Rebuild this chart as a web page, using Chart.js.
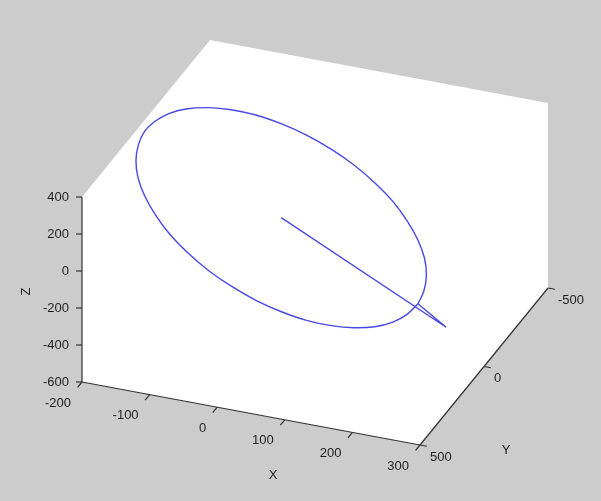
<!DOCTYPE html>
<html><head><meta charset="utf-8">
<script src="https://cdn.jsdelivr.net/npm/chart.js@4"></script>
<style>html,body{margin:0;padding:0;background:#cccccc;overflow:hidden}canvas{display:block}</style>
</head><body>
<canvas id="c" width="601" height="501"></canvas>
<script>
// ---- data (3-D trajectory) ----
// first two points: origin and the outer tip; from index 2 on: the closed orbit
const xs = [0,244, 197,189,176,157,133,106,75,42,8,-27, -61,-93,-122,-147,-168,-184,-194,-198,-197,-189, -176,-157,-133,-106,-75,-42,-8,27,61,93, 122,147,168,184, 194,198,197];
const ys = [0,0, -28,15,57,98,136,169,198,220,236,244, 246,239,226,205,179,147,110,70,28,-15, -57,-98,-136,-169,-198,-220,-236,-244,-246,-239, -226,-205,-179,-147, -110,-70,-28];
const zs = [0,-426, -355,-381,-396,-399,-389,-368,-336,-293,-242,-183, -118,-50,19,88,155,216,271,318,355,381, 396,399,389,368,336,293,242,183,118,50, -19,-88,-155,-216, -271,-318,-355];

// ---- axes ----
const xLim = [-200, 300], yLim = [-500, 500], zLim = [-600, 400];
const xTicks = [-200, -100, 0, 100, 200, 300];
const yTicks = [-500, 0, 500];
const zTicks = [-600, -400, -200, 0, 200, 400];
const xName = 'X', yName = 'Y', zName = 'Z';

// ---- view (layout of the projected box) ----
const VIEW = { o: [82, 382], ex: [338, 63], ey: [128, -157], ez: [0, -185] };
function proj(x, y, z) {
  const u = (x - xLim[0]) / (xLim[1] - xLim[0]);
  const v = (yLim[1] - y) / (yLim[1] - yLim[0]);
  const w = (z - zLim[0]) / (zLim[1] - zLim[0]);
  return { x: VIEW.o[0] + u * VIEW.ex[0] + v * VIEW.ey[0] + w * VIEW.ez[0],
           y: VIEW.o[1] + u * VIEW.ex[1] + v * VIEW.ey[1] + w * VIEW.ez[1] };
}

const allPts = xs.map((x, i) => proj(x, ys[i], zs[i]));
const radialPts = allPts.slice(0, 3);
const orbitPts = allPts.slice(2);
const boxPts = [
  proj(xLim[0], yLim[1], zLim[0]), proj(xLim[0], yLim[1], zLim[1]),
  proj(xLim[0], yLim[0], zLim[1]), proj(xLim[1], yLim[0], zLim[1]),
  proj(xLim[1], yLim[0], zLim[0]), proj(xLim[1], yLim[1], zLim[0]),
  proj(xLim[0], yLim[1], zLim[0])
];

const FONT = '13px "Liberation Sans", Arial, Helvetica, sans-serif';
const TXT = '#1f1f1f';
const AX = '#333333';
const LINE = 'rgb(72,72,226)';

const axesPlugin = {
  id: 'axes3d',
  beforeDraw(chart) {
    const c = chart.ctx; c.save(); c.fillStyle = '#cccccc'; c.fillRect(0, 0, chart.width, chart.height); c.restore();
  },
  afterDatasetsDraw(chart) {
    const sx = chart.scales.x, sy = chart.scales.y, c = chart.ctx;
    const P = (p) => [sx.getPixelForValue(p.x), sy.getPixelForValue(p.y)];
    c.save();
    c.strokeStyle = AX; c.lineWidth = 1.2;
    const seg = (a, b) => { const A = P(a), B = P(b); c.beginPath(); c.moveTo(A[0], A[1]); c.lineTo(B[0], B[1]); c.stroke(); };
    seg(proj(xLim[0], yLim[1], zLim[0]), proj(xLim[1], yLim[1], zLim[0]));
    seg(proj(xLim[1], yLim[1], zLim[0]), proj(xLim[1], yLim[0], zLim[0]));
    seg(proj(xLim[0], yLim[1], zLim[0]), proj(xLim[0], yLim[1], zLim[1]));
    c.font = FONT; c.fillStyle = TXT;
    const ny = Math.hypot(VIEW.ey[0], VIEW.ey[1]);
    const dxT = [-VIEW.ey[0] / ny * 7, -VIEW.ey[1] / ny * 7];
    c.textAlign = 'right'; c.textBaseline = 'middle';
    xTicks.forEach(t => {
      const A = P(proj(t, yLim[1], zLim[0]));
      c.beginPath(); c.moveTo(A[0], A[1]); c.lineTo(A[0] + dxT[0], A[1] + dxT[1]); c.stroke();
      c.fillText(String(t), A[0] - 11, A[1] + 21);
    });
    const nx = Math.hypot(VIEW.ex[0], VIEW.ex[1]);
    const dyT = [VIEW.ex[0] / nx * 7, VIEW.ex[1] / nx * 7];
    c.textAlign = 'left';
    yTicks.forEach(t => {
      const A = P(proj(xLim[1], t, zLim[0]));
      c.beginPath(); c.moveTo(A[0], A[1]); c.lineTo(A[0] + dyT[0], A[1] + dyT[1]); c.stroke();
      c.fillText(String(t), A[0] + 10, A[1] + 12);
    });
    c.textAlign = 'right';
    zTicks.forEach(t => {
      const A = P(proj(xLim[0], yLim[1], t));
      c.beginPath(); c.moveTo(A[0], A[1]); c.lineTo(A[0] - 6, A[1]); c.stroke();
      c.fillText(String(t), A[0] - 13, A[1]);
    });
    c.textAlign = 'center';
    const mx = P(proj((xLim[0] + xLim[1]) / 2, yLim[1], zLim[0]));
    c.fillText(xName, mx[0] + 22, mx[1] + 62);
    const my = P(proj(xLim[1], (yLim[0] + yLim[1]) / 2, zLim[0]));
    c.fillText(yName, my[0] + 22, my[1] + 84);
    const mz = P(proj(xLim[0], yLim[1], (zLim[0] + zLim[1]) / 2));
    c.translate(mz[0] - 56, mz[1] + 2); c.rotate(-Math.PI / 2);
    c.fillText(zName, 0, 0);
    c.restore();
  }
};

new Chart(document.getElementById('c'), {
  type: 'scatter',
  data: { datasets: [
    { label: 'radial', data: radialPts, showLine: true, borderColor: LINE, borderWidth: 1.4,
      pointRadius: 0, tension: 0, fill: false, order: 1 },
    { label: 'orbit', data: orbitPts, showLine: true, borderColor: LINE, borderWidth: 1.4,
      pointRadius: 0, tension: 0.4, fill: false, order: 2 },
    { label: 'box', data: boxPts, showLine: true, borderWidth: 0, borderColor: 'rgba(0,0,0,0)',
      backgroundColor: '#ffffff', fill: 'shape', pointRadius: 0, tension: 0, order: 3 }
  ]},
  options: {
    responsive: false, animation: false, devicePixelRatio: 1, events: [],
    layout: { padding: 0 },
    plugins: { legend: { display: false }, tooltip: { enabled: false } },
    scales: {
      x: { type: 'linear', min: 0, max: 601, display: false },
      y: { type: 'linear', min: 0, max: 501, reverse: true, display: false }
    }
  },
  plugins: [axesPlugin]
});
</script>
</body></html>
